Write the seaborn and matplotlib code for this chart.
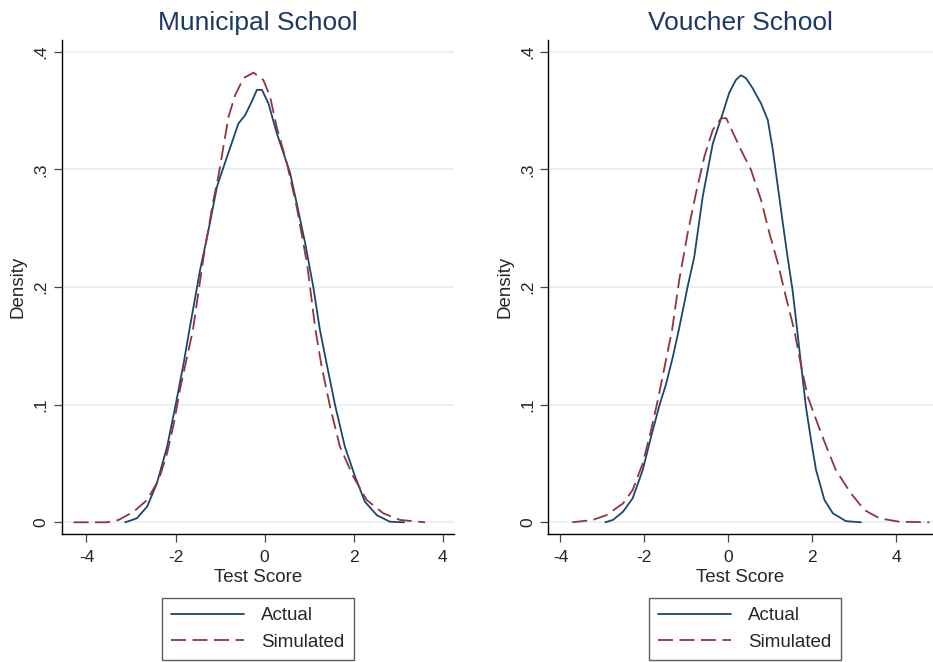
import pandas as pd
import matplotlib
matplotlib.use("Agg")
import matplotlib.pyplot as plt
import seaborn as sns

# values (kernel density curves)
muni_actual_x = [-3.13, -2.87, -2.64, -2.42, -2.19, -2.0, -1.82, -1.69, -1.45, -1.26, -1.07, -0.96,
                 -0.77, -0.59, -0.44, -0.29, -0.175, -0.06, 0.085, 0.27, 0.57, 0.72, 0.91, 1.09,
                 1.24, 1.39, 1.58, 1.80, 2.03, 2.25, 2.52, 2.81, 3.13]
muni_actual_y = [0, 0.0034, 0.0133, 0.0331, 0.0643, 0.0997, 0.135, 0.1636, 0.2145, 0.2486, 0.2854, 0.298,
                 0.319, 0.339, 0.346, 0.3577, 0.3676, 0.3676, 0.356, 0.331, 0.297, 0.271, 0.237, 0.2003,
                 0.1636, 0.135, 0.0997, 0.0643, 0.0388, 0.0175, 0.006, 0.0005, 0]

muni_sim_x = [-4.29, -3.54, -3.28, -2.94, -2.64, -2.38, -2.19, -2.04, -1.89, -1.61, -1.37, -1.15,
              -1.04, -0.81, -0.66, -0.475, -0.25, -0.03, 0.12, 0.27, 0.5, 0.72, 0.95, 1.14,
              1.28, 1.47, 1.69, 1.99, 2.29, 2.66, 3.04, 3.6]
muni_sim_y = [0, 0, 0.002, 0.009, 0.019, 0.036, 0.0587, 0.084, 0.115, 0.1636, 0.226, 0.274,
              0.294, 0.345, 0.3634, 0.3776, 0.3823, 0.376, 0.362, 0.336, 0.305, 0.268, 0.220, 0.1636,
              0.132, 0.098, 0.0643, 0.0388, 0.019, 0.0077, 0.002, 0]

vouch_actual_x = [-2.93, -2.75, -2.51, -2.28, -2.04, -1.84, -1.64, -1.48, -1.32, -1.18, -0.97, -0.81,
                  -0.61, -0.37, -0.13, 0.02, 0.18, 0.30, 0.42, 0.58, 0.78, 0.94, 1.06, 1.18,
                  1.30, 1.41, 1.53, 1.64, 1.73, 1.85, 1.97, 2.09, 2.29, 2.49, 2.80, 3.16]
vouch_actual_y = [0, 0.002, 0.009, 0.0204, 0.0445, 0.0728, 0.0997, 0.118, 0.141, 0.1636, 0.2003, 0.226,
                  0.277, 0.322, 0.348, 0.365, 0.376, 0.380, 0.3776, 0.369, 0.356, 0.342, 0.3166, 0.2854,
                  0.254, 0.226, 0.1975, 0.1636, 0.135, 0.098, 0.070, 0.0445, 0.019, 0.0077, 0.001, 0]

vouch_sim_x = [-3.72, -3.23, -2.91, -2.51, -2.28, -2.04, -1.84, -1.68, -1.52, -1.34, -1.17, -0.97,
               -0.77, -0.57, -0.37, -0.17, -0.05, 0.10, 0.30, 0.54, 0.78, 0.98, 1.18, 1.37,
               1.57, 1.69, 1.89, 2.21, 2.56, 2.92, 3.24, 3.60, 4.07, 4.79]
vouch_sim_y = [0, 0.002, 0.006, 0.016, 0.0275, 0.050, 0.0785, 0.104, 0.132, 0.1636, 0.206, 0.2457,
               0.280, 0.311, 0.3336, 0.3435, 0.3435, 0.332, 0.3166, 0.2996, 0.274, 0.2457, 0.2203, 0.1918,
               0.1636, 0.141, 0.107, 0.0757, 0.0445, 0.0247, 0.0105, 0.0034, 0.0005, 0]

series_names = ["Actual", "Simulated"]
y_ticks = [0, 0.1, 0.2, 0.3, 0.4]
y_tick_labels = ["0", ".1", ".2", ".3", ".4"]
x_ticks = [-4, -2, 0, 2, 4]

sns.set_style("white")
plt.rcParams["font.family"] = ["Liberation Sans", "DejaVu Sans"]
plt.rcParams["axes.unicode_minus"] = False

navy = "#1a476f"
maroon = "#90353b"
title_col = "#1c3a66"
grid_col = "#e8eff2"


def make_df(ax_, ay_, sx_, sy_):
    a = pd.DataFrame({"score": ax_, "density": ay_, "series": "Actual"})
    s = pd.DataFrame({"score": sx_, "density": sy_, "series": "Simulated"})
    return pd.concat([a, s], ignore_index=True)


panels = [
    ("Municipal School", make_df(muni_actual_x, muni_actual_y, muni_sim_x, muni_sim_y),
     [62 / 933, 127.7 / 662, 392 / 933, 494.3 / 662], (-4.55, 4.25), (0.2765, 0.050)),
    ("Voucher School", make_df(vouch_actual_x, vouch_actual_y, vouch_sim_x, vouch_sim_y),
     [548.3 / 933, 127.7 / 662, 384.4 / 933, 494.3 / 662], (-4.29, 4.87), (0.798, 0.050)),
]

fig = plt.figure(figsize=(9.33, 6.62), dpi=100)

for title, df, rect, xlim, leg_pos in panels:
    ax = fig.add_axes(rect)
    sns.lineplot(data=df, x="score", y="density", hue="series", style="series",
                 hue_order=series_names, style_order=series_names,
                 palette={"Actual": navy, "Simulated": maroon},
                 dashes={"Actual": "", "Simulated": (8.3, 3.6)},
                 sort=False, estimator=None, linewidth=1.3, legend=False, ax=ax)
    ax.set_xlim(*xlim)
    ax.set_ylim(-0.0102, 0.41)
    ax.set_yticks(y_ticks)
    ax.set_yticklabels(y_tick_labels)
    ax.set_xticks(x_ticks)
    for yv in y_ticks:
        ax.axhline(yv, color=grid_col, lw=1.3, zorder=0)
    for side in ["top", "right"]:
        ax.spines[side].set_visible(False)
    for side in ["left", "bottom"]:
        ax.spines[side].set_color("black")
        ax.spines[side].set_linewidth(1.0)
    ax.tick_params(axis="both", direction="out", length=5.5, width=0.9, color="#444444",
                   labelsize=12.5, bottom=True, left=True)
    ax.tick_params(axis="x", pad=5.5)
    ax.tick_params(axis="y", labelrotation=90, pad=4)
    for lab in ax.get_yticklabels():
        lab.set_va("center")
    ax.set_xlabel("Test Score", fontsize=13.5, labelpad=3)
    ax.set_ylabel("Density", fontsize=13.5, labelpad=5)
    ax.set_title(title, fontsize=19, color=title_col, pad=7)

    leg = ax.legend(ax.lines[:2], series_names, loc="center", bbox_to_anchor=leg_pos,
                    bbox_transform=fig.transFigure, fontsize=13.5, frameon=True, fancybox=False,
                    handlelength=3.9, handletextpad=0.9, labelspacing=0.5, borderpad=0.5,
                    borderaxespad=0)
    leg.get_frame().set_edgecolor("#333333")
    leg.get_frame().set_linewidth(1.0)

fig.savefig("out.png", dpi=100)
